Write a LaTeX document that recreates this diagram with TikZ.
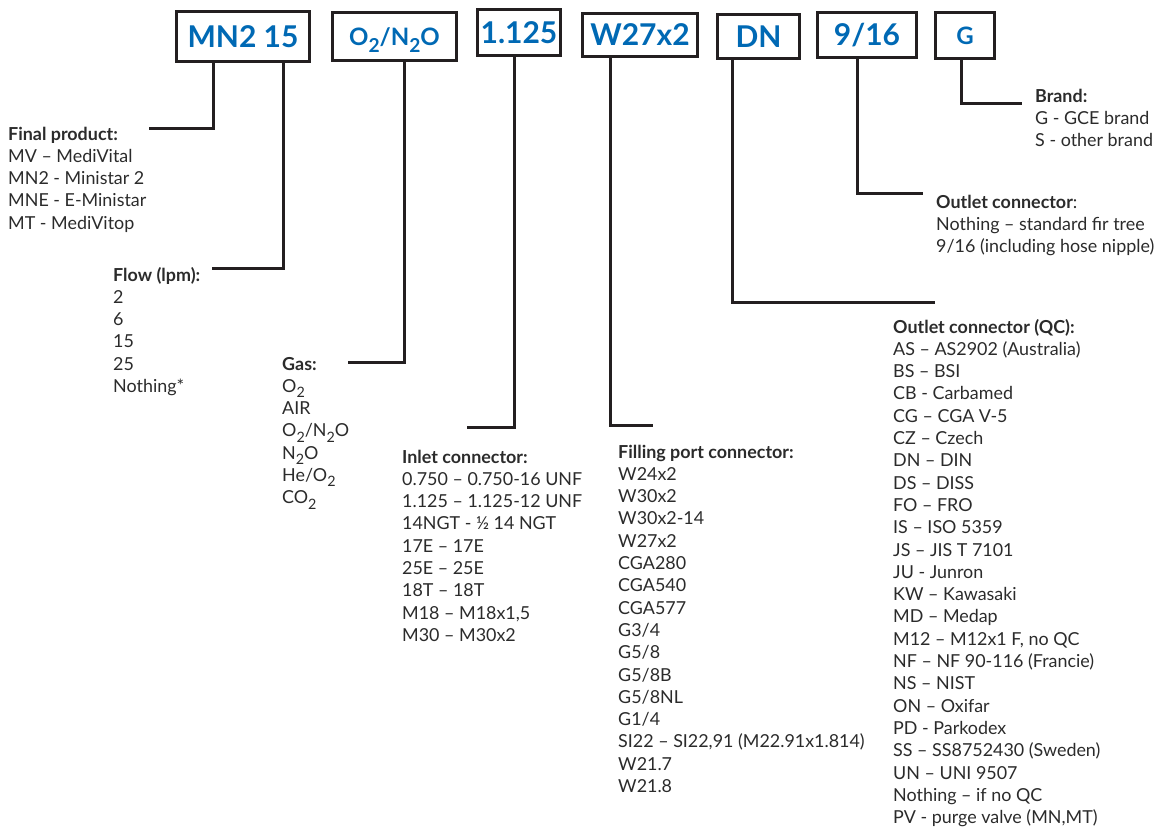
\documentclass[tikz,border=0pt]{standalone}
\usepackage{fontspec}
\setmainfont{Lato}
\usepackage{graphicx}
\definecolor{codeblue}{HTML}{0069B4}
\definecolor{textc}{HTML}{2B2B2B}
\definecolor{linec}{HTML}{231F20}
\newcommand{\sbs}[1]{\raisebox{-0.3em}{\scalebox{0.8}{#1}}}
\begin{document}
\begin{tikzpicture}[x=1pt,y=-1pt,
  codebox/.style={draw=linec, line width=3pt, inner sep=0pt, text=codeblue,
    font=\bfseries\fontsize{30}{30}\selectfont, text height=21.5pt, text depth=0pt, align=center},
  smallcode/.style={codebox, font=\bfseries\fontsize{24}{24}\selectfont, text height=17pt},
  conn/.style={draw=linec, line width=3pt},
  txt/.style={anchor=base west, inner sep=0pt, text=textc, font=\fontsize{17.9}{22}\selectfont},
  hdr/.style={txt, font=\bfseries\fontsize{17.9}{22}\selectfont}]
\useasboundingbox (0,0) rectangle (1169,827);

% code boxes
\node[codebox, minimum width=133pt, minimum height=50pt] (b1) at (243,36.5) {MN2 15};
\node[smallcode, minimum width=124pt, minimum height=48pt] (b2) at (394.5,36.5) {O\sbs{2}/N\sbs{2}O};
\node[codebox, minimum width=83pt, minimum height=46pt] (b3) at (519,32.5) {1.125};
\node[codebox, minimum width=115pt, minimum height=43pt] (b4) at (640,35) {W27x2};
\node[codebox, minimum width=82pt, minimum height=44pt] (b5) at (758.5,36.5) {DN};
\node[codebox, minimum width=99pt, minimum height=45pt] (b6) at (867,35) {9/16};
\node[smallcode, minimum width=59pt, minimum height=46pt] (b7) at (965,35.5) {G};

% headers
\node[hdr] (hfp) at (8,140) {Final product:};
\node[hdr] (hfl) at (113,281) {Flow (lpm):};
\node[hdr] (hgas) at (282,370) {Gas:};
\node[hdr] (hin) at (402,463) {Inlet connector:};
\node[hdr] (hfill) at (618,458) {Filling port connector:};
\node[hdr] (hbr) at (1035,102) {Brand:};
\node[txt] (hout) at (936,208) {\textbf{Outlet connector}:};
\node[hdr] (hqc) at (893,333) {Outlet connector (QC):};

% lists
\foreach [count=\i] \t in {MV – MediVital, MN2 - Ministar 2, MNE - E-Ministar, MT - MediVitop}
  \node[txt] (fp\i) at (8,{140+22.3*\i}) {\t};
\foreach [count=\i] \t in {2, 6, 15, 25, Nothing*}
  \node[txt] (fl\i) at (113,{281+22.3*\i}) {\t};
\foreach [count=\i] \t in {O\sbs{2}, AIR, O\sbs{2}/N\sbs{2}O, N\sbs{2}O, He/O\sbs{2}, CO\sbs{2}}
  \node[txt] (gas\i) at (282,{370+22.3*\i}) {\t};
\foreach [count=\i] \t in {0.750 – 0.750-16 UNF, 1.125 – 1.125-12 UNF, 14NGT - ½ 14 NGT, 17E – 17E, 25E – 25E, 18T – 18T, {M18 – M18x1,5}, M30 – M30x2}
  \node[txt] (in\i) at (402,{463+22.3*\i}) {\t};
\foreach [count=\i] \t in {W24x2, W30x2, W30x2-14, W27x2, CGA280, CGA540, CGA577, G3/4, G5/8, G5/8B, G5/8NL, G1/4, {SI22 – SI22,91 (M22.91x1.814)}, W21.7, W21.8}
  \node[txt] (fill\i) at (618,{458+22.3*\i}) {\t};
\foreach [count=\i] \t in {G - GCE brand, S - other brand}
  \node[txt] (br\i) at (1035,{102+22.3*\i}) {\t};
\foreach [count=\i] \t in {Nothing – standard fir tree, 9/16 (including hose nipple)}
  \node[txt] (out\i) at (936,{208+22.3*\i}) {\t};
\foreach [count=\i] \t in {AS – AS2902 (Australia), BS – BSI, CB - Carbamed, CG – CGA V-5, CZ – Czech, DN – DIN, DS – DISS, FO – FRO, IS – ISO 5359, JS – JIS T 7101, JU - Junron, KW – Kawasaki, MD – Medap, {M12 – M12x1 F, no QC}, NF – NF 90-116 (Francie), NS – NIST, ON – Oxifar, PD - Parkodex, SS – SS8752430 (Sweden), UN – UNI 9507, Nothing – if no QC, {PV - purge valve (MN,MT)}}
  \node[txt] (qc\i) at (893,{333+22.3*\i}) {\t};

% connector ends
\coordinate (e1) at (149,128);
\coordinate (e2) at (212,268);
\coordinate (e3) at (348,362);
\coordinate (e4) at (467,427);
\coordinate (e5) at (653,425);
\coordinate (e6) at (935,302);
\coordinate (e7) at (923,193);
\coordinate (e8) at (1022,103);

% connectors
\draw[conn] (b1.south -| 213,0) |- (e1);
\draw[conn] (b1.south -| 283,0) |- (e2);
\draw[conn] (b2.south -| 404,0) |- (e3);
\draw[conn] (b3.south -| 514,0) |- (e4);
\draw[conn] (b4.south -| 610,0) |- (e5);
\draw[conn] (b5.south -| 732,0) |- (e6);
\draw[conn] (b6.south -| 857,0) |- (e7);
\draw[conn] (b7.south -| 961,0) |- (e8);
\end{tikzpicture}
\end{document}
